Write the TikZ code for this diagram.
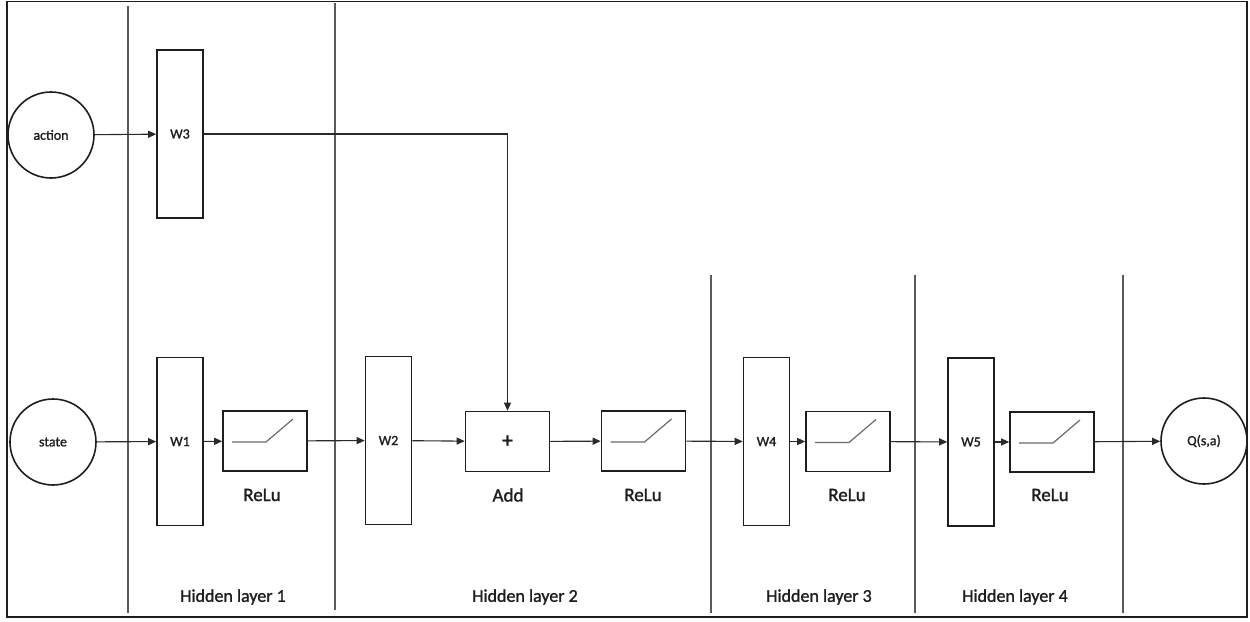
\documentclass[tikz,border=0pt]{standalone}
\usepackage{fontspec}
\setmainfont{Carlito}[BoldFont=Carlito,BoldFeatures={FakeBold=1.3}]
\usetikzlibrary{arrows.meta,calc}
\definecolor{ink}{HTML}{1E1E1E}
\definecolor{wire}{HTML}{2A2A2A}
\definecolor{divider}{HTML}{5A5A5A}
\definecolor{curve}{HTML}{6A6A6A}
\tikzset{
  io/.style={circle,draw=ink,line width=1.6pt,minimum size=86pt,inner sep=0pt,font=\bfseries\fontsize{14}{16}\selectfont,text=ink},
  weight/.style={rectangle,draw=ink,line width=1.6pt,minimum width=46pt,minimum height=168pt,inner sep=0pt,font=\bfseries\fontsize{14}{16}\selectfont,text=ink},
  opbox/.style={rectangle,draw=ink,line width=1.6pt,minimum width=84pt,minimum height=60pt,inner sep=0pt,font=\bfseries\fontsize{22}{24}\selectfont,text=ink},
  caption/.style={font=\bfseries\fontsize{19}{22}\selectfont,text=ink},
  layername/.style={font=\bfseries\fontsize{18}{21}\selectfont,text=ink},
  link/.style={draw=wire,line width=1.1pt,-{Triangle[length=8pt,width=7pt]}},
  sep/.style={draw=divider,line width=1.2pt},
  relucurve/.style={draw=curve,line width=1.2pt}
}
\begin{document}
\begin{tikzpicture}[x=1pt,y=-1pt]
  \useasboundingbox (0,0) rectangle (1250,621);
  % outer frame
  \draw[draw=ink,line width=1.6pt] (7,1.5) rectangle (1247,617);

  % layer dividers
  \coordinate (d1t) at (128,6);   \coordinate (d1b) at (128,613);
  \coordinate (d2t) at (335,3);   \coordinate (d2b) at (335,610);
  \coordinate (d3t) at (711,275); \coordinate (d3b) at (711,613);
  \coordinate (d4t) at (915,275); \coordinate (d4b) at (915,613);
  \coordinate (d5t) at (1123,275);\coordinate (d5b) at (1123,613);
  \foreach \d in {d1,d2,d3,d4,d5} \draw[sep] (\d t) -- (\d b);

  % inputs and output
  \node[io] (action) at (51,135) {action};
  \node[io] (state) at (53,442) {state};
  \node[io] (q) at (1204,441) {Q(s,a)};

  % weight layers
  \node[weight] (w3) at (180,134) {W3};
  \node[weight] (w1) at (180,441.5) {W1};
  \node[weight] (w2) at (388.5,440.5) {W2};
  \node[weight] (w4) at (766.5,441.5) {W4};
  \node[weight] (w5) at (971,442) {W5};

  % operations
  \node[opbox] (r1) at (265,441) {};
  \node[opbox] (add) at (507.5,441.5) {+};
  \node[opbox] (r2) at (643.5,441) {};
  \node[opbox] (r3) at (848,441.5) {};
  \node[opbox] (r4) at (1052,442) {};

  % rectifier glyphs
  \foreach \r in {r1,r2,r3,r4}
    \draw[relucurve] ($(\r.center)+(-33,1)$) -- ($(\r.center)+(1,1)$) -- ($(\r.center)+(28,-22)$);

  % operation captions
  \node[caption] (c1) at (262,495) {ReLu};
  \node[caption] (cadd) at (508,495) {Add};
  \node[caption] (c2) at (643,495) {ReLu};
  \node[caption] (c3) at (847,495) {ReLu};
  \node[caption] (c4) at (1050,495) {ReLu};

  % layer names
  \node[layername] (h1) at (233,597) {Hidden layer 1};
  \node[layername] (h2) at (525,597) {Hidden layer 2};
  \node[layername] (h3) at (819,597) {Hidden layer 3};
  \node[layername] (h4) at (1015,597) {Hidden layer 4};

  % data flow
  \draw[link] (action) -- (w3);
  \draw[link] (w3.east) -| (add.north);
  \draw[link] (state) -- (w1);
  \draw[link] (w1) -- (r1);
  \draw[link] (r1) -- (w2);
  \draw[link] (w2) -- (add);
  \draw[link] (add) -- (r2);
  \draw[link] (r2) -- (w4);
  \draw[link] (w4) -- (r3);
  \draw[link] (r3) -- (w5);
  \draw[link] (w5) -- (r4);
  \draw[link] (r4) -- (q);
\end{tikzpicture}
\end{document}
